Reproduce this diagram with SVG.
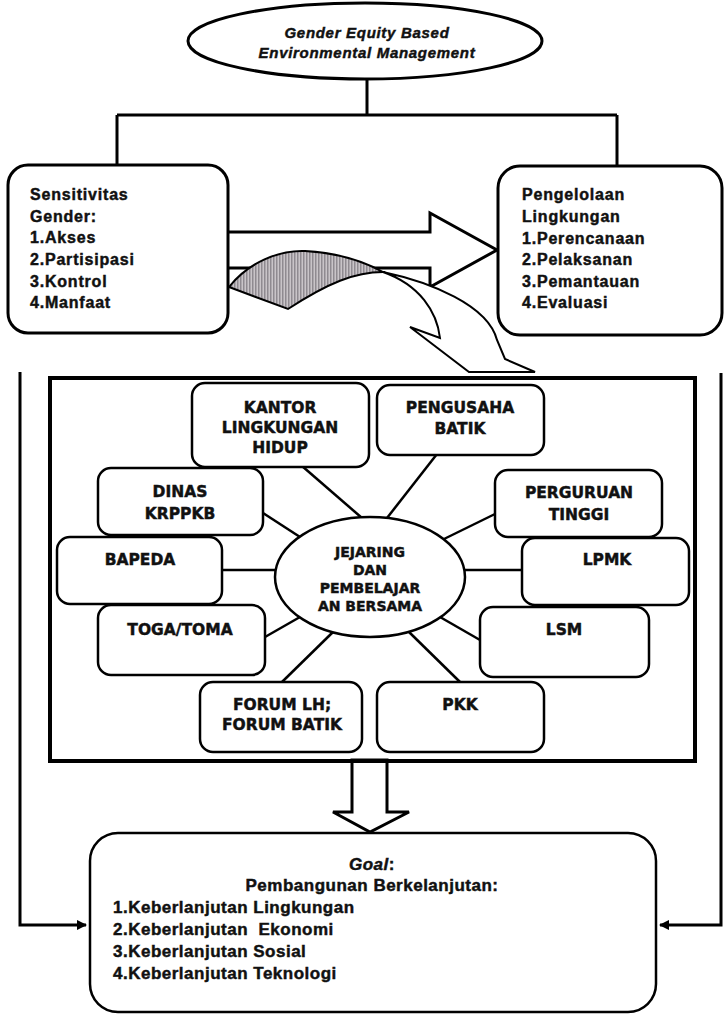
<svg xmlns="http://www.w3.org/2000/svg" width="724" height="1015" viewBox="0 0 724 1015">
<defs>
<style>
.ln{fill:none;stroke:#000;stroke-width:3}
.sp{fill:none;stroke:#000;stroke-width:2.5}
.bx{fill:#fff;stroke:#000;stroke-width:2.5}
.hd{fill:#fff;stroke:#000;stroke-width:3}
text{stroke:#111;stroke-width:0.45px;fill:#111}
.t1{font-family:"Liberation Sans",Arial,sans-serif;font-weight:bold;font-size:16px;letter-spacing:0.8px}
.tt{font-family:"Liberation Sans",Arial,sans-serif;font-weight:bold;font-style:italic;font-size:15px;letter-spacing:0.7px;text-anchor:middle}
.tn{font-family:"DejaVu Sans",Verdana,sans-serif;font-weight:bold;font-size:15.5px;text-anchor:middle}
.te{font-family:"DejaVu Sans",Verdana,sans-serif;font-weight:bold;font-size:14px;text-anchor:middle}
.tg{font-family:"Liberation Sans",Arial,sans-serif;font-weight:bold;font-size:17px;letter-spacing:0.5px}
</style>
<pattern id="hatch" width="3" height="4" patternUnits="userSpaceOnUse">
<rect width="3" height="4" fill="#c9c4c8"/>
<rect width="1.5" height="4" fill="#8f8a90"/>
</pattern>
<marker id="ah" viewBox="0 0 10 10" refX="9" refY="5" markerWidth="3.5" markerHeight="3.5" orient="auto" markerUnits="strokeWidth">
<path d="M0,0 L10,5 L0,10 Z" fill="#000"/>
</marker>
</defs>
<rect width="724" height="1015" fill="#fff"/>

<g id="connectors">
<path class="ln" d="M367,79 V115 M117,115 H617 M117,115 V165 M617,115 V166"/>
<path class="ln" d="M20,372 V925 H86" marker-end="url(#ah)"/>
<path class="ln" d="M721,373 V925 H660" marker-end="url(#ah)"/>
<g class="sp">
<line x1="302" y1="466" x2="362" y2="518"/>
<line x1="437" y1="454" x2="387" y2="518"/>
<line x1="263" y1="513" x2="300" y2="537"/>
<line x1="497" y1="513" x2="444" y2="539"/>
<line x1="222" y1="570" x2="275" y2="570"/>
<line x1="465" y1="570" x2="522" y2="570"/>
<line x1="265" y1="637" x2="300" y2="617"/>
<line x1="480" y1="640" x2="440" y2="617"/>
<line x1="282" y1="682" x2="333" y2="632"/>
<line x1="460" y1="682" x2="409" y2="632"/>
</g>
<path id="bigArrow" class="hd" d="M228,232 H430 V213 L497,250 L430,287 V268 H228"/>
<path id="curvedArrowWhite" fill="#fff" stroke="#000" stroke-width="2" d="M383,272 C430,282 488,305 497,340 L505,359 L535,372 L469,372 L410,327 L440,338 C437,312 420,285 383,272 Z"/>
<path id="curvedArrowGray" fill="url(#hatch)" stroke="#000" stroke-width="2" d="M229,287 C248,263 278,250 305,251 C340,253 365,262 383,272 C355,272 328,283 288,309 Z"/>
<path id="downArrow" class="hd" d="M352,760 H387 V812 H409 L370,832 L333,812 H352 Z"/>
</g>

<g id="node-top">
<ellipse cx="365" cy="41" rx="177" ry="38" fill="#fff" stroke="#000" stroke-width="3"/>
<text class="tt" x="367" y="38">Gender Equity Based</text>
<text class="tt" x="367" y="58">Environmental Management</text>
</g>

<g id="node-sensitivitas">
<rect x="8" y="165" width="220" height="168" rx="20" fill="#fff" stroke="#000" stroke-width="3"/>
<text class="t1" x="30" y="200">Sensitivitas</text>
<text class="t1" x="30" y="222">Gender:</text>
<text class="t1" x="30" y="243">1.Akses</text>
<text class="t1" x="30" y="265">2.Partisipasi</text>
<text class="t1" x="30" y="287">3.Kontrol</text>
<text class="t1" x="30" y="308">4.Manfaat</text>
</g>

<g id="node-pengelolaan">
<rect x="498" y="166" width="224" height="169" rx="22" fill="#fff" stroke="#000" stroke-width="3"/>
<text class="t1" x="522" y="200">Pengelolaan</text>
<text class="t1" x="522" y="222">Lingkungan</text>
<text class="t1" x="522" y="244">1.Perencanaan</text>
<text class="t1" x="522" y="265">2.Pelaksanan</text>
<text class="t1" x="522" y="287">3.Pemantauan</text>
<text class="t1" x="522" y="308">4.Evaluasi</text>
</g>

<g id="network-frame">
<rect x="50" y="378" width="645" height="383" fill="none" stroke="#000" stroke-width="4"/>
</g>

<g id="node-kantor">
<rect class="bx" x="192" y="383" width="177" height="84" rx="13"/>
<text class="tn" x="280" y="413">KANTOR</text>
<text class="tn" x="280" y="433">LINGKUNGAN</text>
<text class="tn" x="280" y="453">HIDUP</text>
</g>
<g id="node-pengusaha">
<rect class="bx" x="377" y="385" width="167" height="70" rx="13"/>
<text class="tn" x="460" y="413">PENGUSAHA</text>
<text class="tn" x="460" y="434">BATIK</text>
</g>
<g id="node-dinas">
<rect class="bx" x="98" y="468" width="165" height="67" rx="13"/>
<text class="tn" x="180" y="497">DINAS</text>
<text class="tn" x="180" y="519">KRPPKB</text>
</g>
<g id="node-perguruan">
<rect class="bx" x="495" y="470" width="167" height="67" rx="13"/>
<text class="tn" x="579" y="498">PERGURUAN</text>
<text class="tn" x="579" y="520">TINGGI</text>
</g>
<g id="node-bapeda">
<rect class="bx" x="57" y="537" width="165" height="67" rx="13"/>
<text class="tn" x="140" y="565">BAPEDA</text>
</g>
<g id="node-lpmk">
<rect class="bx" x="522" y="538" width="167" height="67" rx="13"/>
<text class="tn" x="607" y="565">LPMK</text>
</g>
<g id="node-toga">
<rect class="bx" x="98" y="605" width="167" height="70" rx="13"/>
<text class="tn" x="180" y="635">TOGA/TOMA</text>
</g>
<g id="node-lsm">
<rect class="bx" x="480" y="607" width="169" height="70" rx="13"/>
<text class="tn" x="564" y="635">LSM</text>
</g>
<g id="node-forum">
<rect class="bx" x="200" y="682" width="162" height="70" rx="13"/>
<text class="tn" x="282" y="710">FORUM LH;</text>
<text class="tn" x="282" y="730">FORUM BATIK</text>
</g>
<g id="node-pkk">
<rect class="bx" x="377" y="682" width="167" height="70" rx="13"/>
<text class="tn" x="460" y="710">PKK</text>
</g>

<g id="node-jejaring">
<ellipse cx="370" cy="577" rx="95" ry="60" fill="#fff" stroke="#000" stroke-width="2.5"/>
<text class="te" x="370" y="557">JEJARING</text>
<text class="te" x="370" y="575">DAN</text>
<text class="te" x="370" y="593">PEMBELAJAR</text>
<text class="te" x="370" y="611">AN BERSAMA</text>
</g>

<g id="node-goal">
<rect x="90" y="833" width="566" height="179" rx="28" fill="#fff" stroke="#000" stroke-width="2.5"/>
<text class="tg" x="372" y="870" text-anchor="middle"><tspan font-style="italic">Goal</tspan>:</text>
<text class="tg" x="372" y="891" text-anchor="middle">Pembangunan Berkelanjutan:</text>
<text class="tg" x="113" y="913">1.Keberlanjutan Lingkungan</text>
<text class="tg" x="113" y="935" xml:space="preserve">2.Keberlanjutan  Ekonomi</text>
<text class="tg" x="113" y="957">3.Keberlanjutan Sosial</text>
<text class="tg" x="113" y="979">4.Keberlanjutan Teknologi</text>
</g>
</svg>
